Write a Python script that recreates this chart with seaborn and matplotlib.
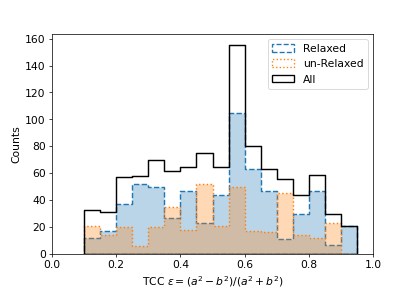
import numpy as np
import pandas as pd
import matplotlib
matplotlib.use("Agg")
import matplotlib.pyplot as plt
from matplotlib.patches import Patch
import seaborn as sns

bin_edges = [0.10, 0.15, 0.20, 0.25, 0.30, 0.35, 0.40, 0.45, 0.50, 0.55,
             0.60, 0.65, 0.70, 0.75, 0.80, 0.85, 0.90, 0.95]
relaxed = [12, 17, 37, 52, 50, 27, 47, 23, 44, 105, 63, 47, 11, 30, 47, 7, 21]
unrelaxed = [21, 14, 20, 6, 20, 35, 18, 52, 21, 50, 17, 16, 45, 14, 12, 23, 0]
all_counts = [r + u for r, u in zip(relaxed, unrelaxed)]

edges = np.array(bin_edges)
centers = (edges[:-1] + edges[1:]) / 2
df = pd.DataFrame({"center": centers, "relaxed": relaxed,
                   "unrelaxed": unrelaxed, "all": all_counts})

fig = plt.figure(figsize=(6.4, 4.49), dpi=64.84)
ax = fig.add_axes([0.1253, 0.127, 0.7737, 0.756])

sns.histplot(data=df, x="center", weights="relaxed", bins=bin_edges, element="step",
             fill=True, alpha=0.3, color="C0", linestyle="--", linewidth=1.6, ax=ax)
sns.histplot(data=df, x="center", weights="unrelaxed", bins=bin_edges, element="step",
             fill=True, alpha=0.3, color="C1", linestyle=":", linewidth=1.6, ax=ax)
sns.histplot(data=df, x="center", weights="all", bins=bin_edges, element="step",
             fill=True, facecolor="none", color="k", edgecolor="k", linewidth=1.6, ax=ax)

ax.set_xlim(0, 1.0)
ax.set_ylim(0, 163.5)
ax.set_xticks([0.0, 0.2, 0.4, 0.6, 0.8, 1.0])
ax.set_yticks([0, 20, 40, 60, 80, 100, 120, 140, 160])
ax.tick_params(labelsize=12)
ax.set_xlabel(r"TCC $\varepsilon=(a^2-b^2)/(a^2+b^2)$", fontsize=12)
ax.set_ylabel("Counts", fontsize=12)

handles = [
    Patch(facecolor="none", edgecolor="C0", linestyle="--", linewidth=1.5, label="Relaxed"),
    Patch(facecolor="none", edgecolor="C1", linestyle=":", linewidth=1.5, label="un-Relaxed"),
    Patch(facecolor="none", edgecolor="k", linewidth=1.5, label="All"),
]
ax.legend(handles=handles, loc="upper right", fontsize=12)

fig.savefig("out.png", dpi=64.84)
